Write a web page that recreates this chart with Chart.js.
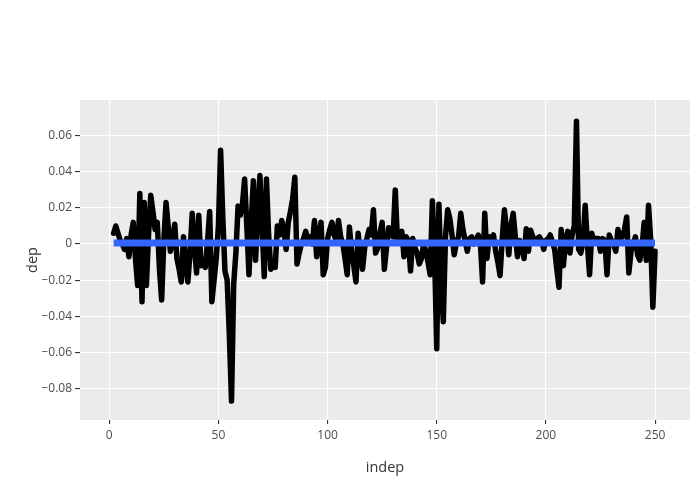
<!DOCTYPE html>
<html>
<head>
<meta charset="utf-8">
<script src="https://cdn.jsdelivr.net/npm/chart.js@4/dist/chart.umd.min.js"></script>
<style>
html,body{margin:0;padding:0;background:#fff;}
#wrap{width:700px;height:500px;}
</style>
</head>
<body>
<div id="wrap"><canvas id="c" width="700" height="500"></canvas></div>
<script>
const indep = [
  2,3,4,5,6,7,8,9,10,11,
  12,13,14,15,16,17,18,19,20,21,
  22,23,24,25,26,27,28,29,30,31,
  32,33,34,35,36,37,38,39,40,41,
  42,43,44,45,46,47,48,49,50,51,
  52,53,54,55,56,57,58,59,60,61,
  62,63,64,65,66,67,68,69,70,71,
  72,73,74,75,76,77,78,79,80,81,
  82,83,84,85,86,87,88,89,90,91,
  92,93,94,95,96,97,98,99,100,101,
  102,103,104,105,106,107,108,109,110,111,
  112,113,114,115,116,117,118,119,120,121,
  122,123,124,125,126,127,128,129,130,131,
  132,133,134,135,136,137,138,139,140,141,
  142,143,144,145,146,147,148,149,150,151,
  152,153,154,155,156,157,158,159,160,161,
  162,163,164,165,166,167,168,169,170,171,
  172,173,174,175,176,177,178,179,180,181,
  182,183,184,185,186,187,188,189,190,191,
  192,193,194,195,196,197,198,199,200,201,
  202,203,204,205,206,207,208,209,210,211,
  212,213,214,215,216,217,218,219,220,221,
  222,223,224,225,226,227,228,229,230,231,
  232,233,234,235,236,237,238,239,240,241,
  242,243,244,245,246,247,248,249,250
];
const dep = [
  0.006,0.010,0.006,0.002,0.000,-0.003,0.003,-0.007,0.005,0.012,
  -0.008,-0.023,0.028,-0.032,0.023,-0.023,0.005,0.027,0.018,0.008,
  0.012,-0.014,-0.031,0.002,0.023,0.010,-0.004,0.003,0.011,-0.008,
  -0.014,-0.021,0.004,-0.010,-0.021,-0.005,0.017,-0.001,-0.016,0.016,
  -0.012,-0.009,-0.013,0.001,0.018,-0.032,-0.020,-0.008,0.010,0.052,
  0.015,-0.015,-0.020,-0.050,-0.087,-0.022,-0.005,0.021,0.016,0.022,
  0.036,0.010,-0.017,0.012,0.035,-0.009,0.015,0.038,0.010,-0.018,
  0.036,0.005,-0.014,-0.010,-0.013,0.010,0.005,0.013,0.008,-0.003,
  0.012,0.018,0.025,0.037,-0.011,-0.005,0.000,0.003,0.007,0.002,
  0.004,0.000,0.013,-0.007,0.005,0.012,-0.017,-0.013,0.003,0.008,
  0.012,0.005,0.002,0.013,0.004,0.000,-0.008,-0.017,0.0095,-0.004,
  -0.012,-0.021,0.006,-0.005,-0.014,-0.002,0.003,0.008,0.005,0.019,
  -0.005,-0.002,0.006,0.012,-0.014,-0.002,0.009,0.006,0.004,0.030,
  0.002,0.004,0.007,-0.007,0.004,0.002,-0.015,0.003,-0.002,-0.005,
  -0.011,-0.008,0.000,-0.004,-0.010,-0.017,0.024,-0.005,-0.058,0.022,
  -0.020,-0.043,0.004,0.019,0.014,0.005,-0.006,0.001,0.004,0.017,
  0.008,0.002,-0.004,0.003,0.004,0.000,0.002,0.005,0.000,-0.021,
  0.017,-0.008,0.004,0.003,0.005,-0.004,-0.010,-0.0175,0.003,0.019,
  0.008,-0.006,0.010,0.017,0.004,-0.007,0.002,0.000,-0.008,0.0085,
  -0.004,0.0076,0.004,0.001,0.003,0.004,0.002,-0.003,0.002,0.003,
  0.005,0.001,-0.003,-0.014,-0.024,0.008,-0.012,0.002,0.007,-0.005,
  0.005,0.010,0.068,-0.003,-0.005,0.002,0.0215,0.000,-0.017,0.006,
  0.002,0.003,0.003,-0.004,0.003,0.002,-0.017,0.005,0.002,0.000,
  -0.004,0.008,0.003,0.004,0.008,0.015,-0.016,-0.004,0.000,0.004,
  -0.006,-0.009,-0.002,0.012,-0.009,0.0215,0.002,-0.035,-0.004
];
const fitX = [2, 250];
const fitY = [0.0005, 0.0005];
const xTicks = [0, 50, 100, 150, 200, 250];
const xTickLabels = ['0', '50', '100', '150', '200', '250'];
const yTicks = [-0.08, -0.06, -0.04, -0.02, 0, 0.02, 0.04, 0.06];
const yTickLabels = ['\u22120.08', '\u22120.06', '\u22120.04', '\u22120.02', '0', '0.02', '0.04', '0.06'];

const bgPlugin = {
  id: 'bg',
  beforeDraw(chart) {
    const {ctx, chartArea: a} = chart;
    ctx.save();
    ctx.fillStyle = '#ffffff';
    ctx.fillRect(0, 0, chart.width, chart.height);
    ctx.fillStyle = '#ebebeb';
    ctx.fillRect(a.left, a.top, a.right - a.left, a.bottom - a.top);
    ctx.restore();
  }
};

const font = {family: "'Open Sans', sans-serif", size: 12};

new Chart(document.getElementById('c'), {
  type: 'line',
  data: {
    datasets: [
      {
        label: 'dep',
        data: indep.map((x, i) => ({x: x, y: dep[i]})),
        borderColor: '#000000',
        borderWidth: 5.5,
        pointRadius: 0,
        tension: 0,
        borderJoinStyle: 'round',
        borderCapStyle: 'round',
        fill: false,
        order: 2
      },
      {
        label: 'fit',
        data: fitX.map((x, i) => ({x: x, y: fitY[i]})),
        borderColor: '#3366FF',
        borderWidth: 7,
        pointRadius: 0,
        tension: 0,
        borderCapStyle: 'butt',
        fill: false,
        order: 1
      }
    ]
  },
  options: {
    responsive: false,
    animation: false,
    events: [],
    layout: {padding: {top: 100, right: 10, left: 0, bottom: 0}},
    plugins: {legend: {display: false}, tooltip: {enabled: false}, title: {display: false}},
    scales: {
      x: {
        type: 'linear',
        min: -13.4,
        max: 266,
        afterFit(s) { s.height = 80; },
        afterBuildTicks(s) { s.ticks = xTicks.map(v => ({value: v})); },
        grid: {color: '#ffffff', lineWidth: 1.1, tickColor: '#333333', tickLength: 4, drawTicks: true},
        border: {display: false},
        ticks: {
          autoSkip: false, maxRotation: 0, padding: 4,
          color: '#4d4d4d', font: font,
          callback: (v) => { const k = xTicks.indexOf(v); return k >= 0 ? xTickLabels[k] : ''; }
        },
        title: {display: true, text: 'indep', color: '#333333',
          font: {family: "'Open Sans', sans-serif", size: 14.5}, padding: {top: 0, bottom: 23.5}}
      },
      y: {
        type: 'linear',
        min: -0.0975,
        max: 0.0798,
        afterFit(s) { s.width = 80; },
        afterBuildTicks(s) { s.ticks = yTicks.map(v => ({value: v})); },
        grid: {color: '#ffffff', lineWidth: 1.1, tickColor: '#333333', tickLength: 5, drawTicks: true},
        border: {display: false},
        ticks: {
          autoSkip: false, padding: 3,
          color: '#4d4d4d', font: font,
          callback: (v) => { const k = yTicks.findIndex(t => Math.abs(t - v) < 1e-9); return k >= 0 ? yTickLabels[k] : ''; }
        },
        title: {display: true, text: 'dep', color: '#333333',
          font: {family: "'Open Sans', sans-serif", size: 14.5}, padding: {top: 24.5, bottom: 0}}
      }
    }
  },
  plugins: [bgPlugin]
});
</script>
</body>
</html>
